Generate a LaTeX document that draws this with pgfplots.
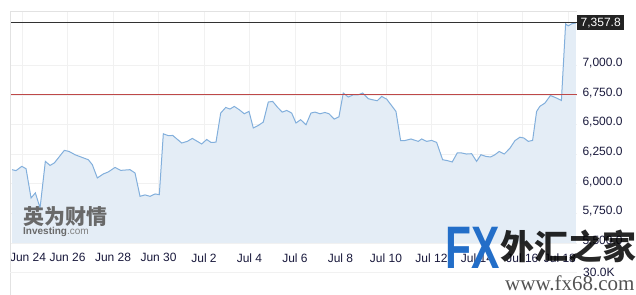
\documentclass[border=0pt]{standalone}
\usepackage{fontspec}
\setmainfont{Liberation Sans}
\newfontfamily\cjk{Noto Sans CJK SC}
\newfontfamily\serifwm{Liberation Serif}
\usepackage{pgfplots}
\usepackage{pgfplotstable}
\pgfplotsset{compat=1.18}
\definecolor{fillc}{RGB}{228,237,246}
\definecolor{linec}{RGB}{130,175,220}
\definecolor{gridc}{RGB}{241,241,241}
\definecolor{framec}{RGB}{226,226,226}
\definecolor{redl}{RGB}{190,72,72}
\definecolor{blackl}{RGB}{50,50,50}
\definecolor{tickc}{RGB}{25,25,60}
\definecolor{labc}{RGB}{35,35,35}
\definecolor{wmgray}{RGB}{105,105,105}
\definecolor{fxblue}{RGB}{35,110,200}

\pgfplotstableread{
x y
-0.44 6119
-0.264 6111
-0.013 6147
0.176 6127
0.396 5880
0.585 5923
0.791 5796
1.024 6189
1.231 6155
1.42 6176
1.859 6282
2.066 6273
2.33 6245
2.914 6203
3.09 6161
3.31 6049
3.574 6083
3.793 6100
4.088 6138
4.338 6113
4.747 6119
4.967 6091
5.187 5894
5.407 5906
5.626 5894
5.846 5914
6.035 5908
6.211 6422
6.431 6406
6.624 6408
7.02 6344
7.266 6358
7.486 6383
7.899 6336
8.119 6374
8.308 6349
8.527 6351
8.734 6597
8.954 6644
9.143 6631
9.332 6653
9.552 6625
9.771 6591
9.978 6611
10.167 6471
10.387 6492
10.607 6521
10.827 6690
11.02 6695
11.24 6644
11.442 6605
11.635 6619
11.855 6597
12.044 6513
12.25 6541
12.484 6498
12.703 6597
12.879 6605
13.099 6591
13.319 6602
13.495 6591
13.727 6546
13.934 6566
14.123 6766
14.343 6732
14.563 6751
14.782 6751
14.976 6766
15.222 6718
15.415 6709
15.618 6701
15.811 6737
16.03 6715
16.44 6611
16.646 6364
16.835 6365
17.099 6378
17.42 6358
17.569 6378
17.789 6358
18.009 6366
18.229 6349
18.492 6203
18.712 6195
18.914 6184
19.134 6260
19.327 6260
19.547 6251
19.767 6254
19.987 6189
20.176 6245
20.396 6231
20.602 6226
20.791 6245
20.98 6273
21.2 6251
21.451 6300
21.67 6364
21.89 6393
22.066 6386
22.255 6358
22.448 6366
22.624 6611
22.769 6654
22.989 6681
23.23 6745
23.473 6726
23.714 6703
23.899 7350
24.013 7333
24.163 7350
24.352 7357.8
}\series

\begin{document}
\begin{tikzpicture}
\useasboundingbox (-10bp,-52bp) rectangle (626bp,243bp);
\begin{axis}[
  name=ax,
  at={(0,0)}, anchor=south west,
  width=567bp, height=231bp, scale only axis,
  xmin=-0.53, xmax=24.4, ymin=5500, ymax=7450,
  clip mode=individual,
  axis line style={draw=none},
  xtick={0,2,...,24},
  xticklabels={\hspace*{12bp}Jun 24, Jun 26, Jun 28, Jun 30, Jul 2, Jul 4, Jul 6, Jul 8, Jul 10, Jul 12, Jul 14, Jul 16, Jul 18\hspace*{16bp}},
  ytick={5500,5750,...,7000},
  yticklabel pos=right,
  major tick length=0pt,
  grid=major,
  major grid style={draw=gridc, line width=0.8bp},
  ticklabel style={font=\fontsize{12bp}{14bp}\selectfont, text=tickc},
  yticklabel style={anchor=west, xshift=2bp, yshift=2bp},
  xticklabel style={yshift=-7bp},
  /pgf/number format/fixed,
  /pgf/number format/fixed zerofill,
  /pgf/number format/precision=1,
  /pgf/number format/1000 sep={,},
  /pgf/number format/assume math mode=true,
]
\addplot[fill=fillc, draw=none] table[x=x,y=y]{\series} \closedcycle;
\addplot[color=linec, line width=1bp] table[x=x,y=y]{\series};
\addplot[color=redl, line width=1bp] coordinates {(-0.53,6750) (24.4,6750)};
\addplot[color=blackl, line width=1bp] coordinates {(-0.53,7357.8) (24.4,7357.8)};
\draw[framec, line width=1bp] (rel axis cs:0,0) -- (rel axis cs:0,1) -- (rel axis cs:1,1);
\node[fill=labc, text=white, anchor=west, inner xsep=3.5bp, inner ysep=0bp, minimum height=15bp, font=\fontsize{12bp}{14bp}\selectfont] at (axis cs:24.4,7357.8) {7,357.8};
\end{axis}
% lower volume pane remnants
\draw[framec, line width=1bp] (0,0) -- (0,-52bp);
\draw[gridc, line width=0.8bp] (0,-29bp) -- (567bp,-29bp);
\node[anchor=west, text=tickc, font=\fontsize{12bp}{14bp}\selectfont, inner sep=0] at (573bp,-29bp) {30.0K};
% watermarks
\node[text=wmgray, font=\cjk\bfseries\fontsize{21bp}{22bp}\selectfont, inner sep=0] at (55.5bp,26.5bp) {英为财情};
\node[anchor=west, inner sep=0, text=wmgray, font=\fontsize{10bp}{11bp}\selectfont] at (13bp,11.5bp) {\textbf{Investing}\textcolor{gray}{.com}};
\node[text=fxblue, font=\bfseries\fontsize{50bp}{50bp}\selectfont, inner sep=0, xscale=0.85, yscale=1.2] at (463bp,-5bp) {FX};
\node[text=black, opacity=0.85, font=\cjk\bfseries\fontsize{34bp}{36bp}\selectfont, inner sep=0, anchor=west] at (490bp,-3bp) {外汇之家};
\node[text=black!75, opacity=0.9, font=\serifwm\fontsize{21bp}{22bp}\selectfont, inner sep=0, anchor=west] at (495bp,-40bp) {www.fx68.com};
\end{tikzpicture}
\end{document}
